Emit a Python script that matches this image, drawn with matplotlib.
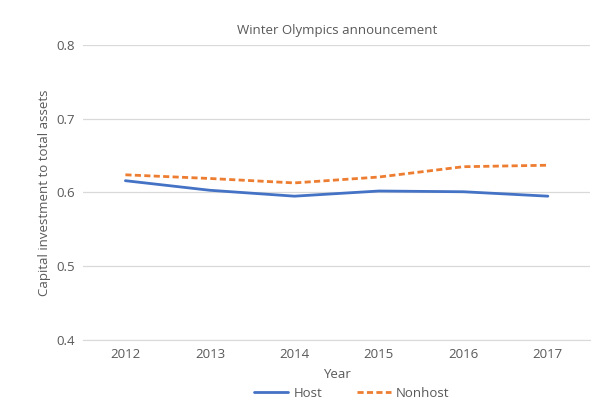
import matplotlib.pyplot as plt
import numpy as np

years = ['2012', '2013', '2014', '2015', '2016', '2017']
host = [0.616, 0.603, 0.595, 0.602, 0.601, 0.595]
nonhost = [0.624, 0.619, 0.613, 0.621, 0.635, 0.637]

plt.rcParams['font.family'] = ['Open Sans', 'DejaVu Sans']
gray = '#595959'

fig = plt.figure(figsize=(6.16, 4.18), dpi=100)
ax = fig.add_axes([0.135, 0.187, 0.823, 0.705])

x = np.arange(len(years))
ax.plot(x, host, color='#4472C4', lw=2, label='Host', solid_capstyle='round')
ax.plot(x, nonhost, color='#ED7D31', lw=2, ls=(0, (2.2, 1.2)), label='Nonhost')

ax.set_xlim(-0.5, len(years) - 0.5)
ax.set_ylim(0.4, 0.8)
ax.set_yticks([0.4, 0.5, 0.6, 0.7, 0.8])
ax.set_yticklabels(['0.4', '0.5', '0.6', '0.7', '0.8'])
ax.set_xticks(x)
ax.set_xticklabels(years)
ax.grid(axis='y', color='#D9D9D9', lw=0.9)
ax.set_axisbelow(True)
for s in ['top', 'right', 'left']:
    ax.spines[s].set_visible(False)
ax.spines['bottom'].set_color('#D9D9D9')
ax.tick_params(axis='both', length=0, labelsize=9.5, colors=gray, pad=6)

ax.set_title('Winter Olympics announcement', fontsize=9.5, color=gray, pad=8)
ax.set_xlabel('Year', fontsize=9.5, color=gray, labelpad=5)
ax.set_ylabel('Capital investment to total assets', fontsize=9.5, color=gray, labelpad=4)

leg = ax.legend(loc='upper center', bbox_to_anchor=(0.53, -0.12), ncol=2, frameon=False,
                fontsize=9.5, handlelength=2.6, columnspacing=2.6, handletextpad=0.4)
for t in leg.get_texts():
    t.set_color(gray)

fig.savefig('out.png', dpi=100)
